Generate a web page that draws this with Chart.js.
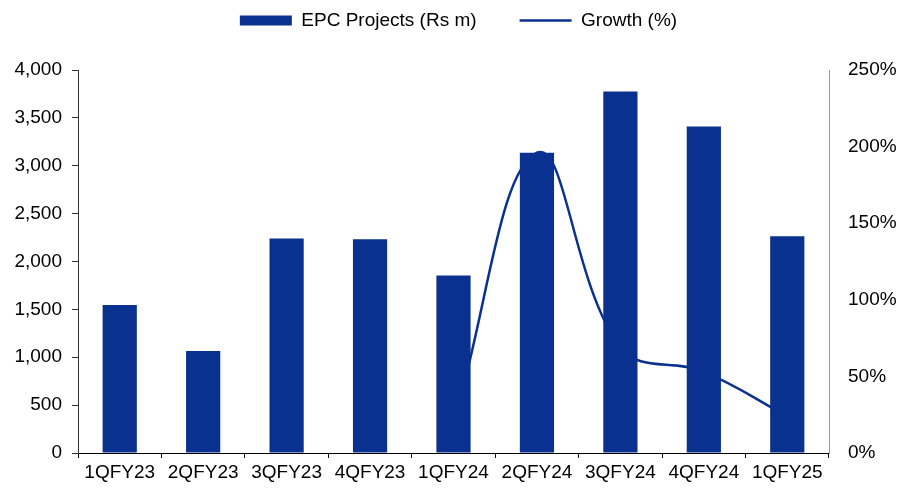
<!DOCTYPE html>
<html>
<head>
<meta charset="utf-8">
<script src="https://cdn.jsdelivr.net/npm/chart.js@4.4.0/dist/chart.umd.min.js"></script>
<style>
  html, body { margin: 0; padding: 0; background: #fff; }
  #wrap { width: 917px; height: 490px; }
</style>
</head>
<body>
<div id="wrap"><canvas id="chart"></canvas></div>
<script>
// quarterly EPC projects revenue and yoy growth
const quarters = ['1QFY23', '2QFY23', '3QFY23', '4QFY23', '1QFY24', '2QFY24', '3QFY24', '4QFY24', '1QFY25'];
const epcProjects = [1545, 1065, 2240, 2232, 1855, 3135, 3775, 3410, 2265];
const growthPct = [null, null, null, null, 20, 196, 69, 53, 24];

const navy = '#0a318f';
Chart.defaults.font.family = '"Liberation Sans", Arial, sans-serif';
Chart.defaults.font.size = 19;
Chart.defaults.color = '#000';

// legend sits high, chart area starts lower -> force the legend box height
const legendHeight = {
    id: 'legendHeight',
    beforeUpdate: function(chart) {
        const lg = chart.legend;
        if (lg && !lg._patched) {
            const origFit = lg.fit;
            lg.fit = function() {
                origFit.call(this);
                this.height = 102;
            };
            lg._patched = true;
        }
    }
};

const data = {
    labels: quarters,
    datasets: [
        {
            type: 'bar',
            label: 'EPC Projects (Rs m)',
            data: epcProjects,
            backgroundColor: navy,
            borderWidth: 0,
            barPercentage: 0.41,
            categoryPercentage: 1,
            pointStyle: 'rect',
            yAxisID: 'y',
            order: 0
        },
        {
            type: 'line',
            label: 'Growth (%)',
            data: growthPct,
            borderColor: navy,
            backgroundColor: navy,
            borderWidth: 2.5,
            pointRadius: 0,
            pointStyle: 'line',
            tension: 0.4,
            spanGaps: false,
            yAxisID: 'y1',
            order: 1
        }
    ]
};

const config = {
    data: data,
    plugins: [legendHeight],
    options: {
        responsive: true,
        maintainAspectRatio: false,
        animation: false,
        layout: { padding: { top: -32, left: 0, right: 0, bottom: 0 } },
        plugins: {
            tooltip: { enabled: false },
            legend: {
                position: 'top',
                labels: {
                    usePointStyle: true,
                    pointStyleWidth: 52,
                    boxHeight: 10,
                    padding: 43
                }
            }
        },
        scales: {
            x: {
                grid: { display: true, drawOnChartArea: false, tickLength: 5, color: '#000' },
                border: { color: '#000' },
                ticks: { padding: 3, maxRotation: 0, autoSkip: false },
                afterFit: function(scale) { scale.height = 37; }
            },
            y: {
                position: 'left',
                min: 0,
                max: 4000,
                grid: { display: true, drawOnChartArea: false, tickLength: 6, color: '#333' },
                border: { color: '#333' },
                ticks: {
                    stepSize: 500,
                    padding: 10,
                    callback: function(v) { return v.toLocaleString('en-US'); }
                },
                afterFit: function(scale) { scale.width = 78; }
            },
            y1: {
                position: 'right',
                min: 0,
                max: 250,
                grid: { display: false, tickLength: 0 },
                border: { display: true, color: '#999' },
                ticks: {
                    stepSize: 50,
                    padding: 19,
                    callback: function(v) { return v + '%'; }
                },
                afterFit: function(scale) { scale.width = 88; }
            }
        }
    }
};

const chart = new Chart(document.getElementById('chart'), config);
</script>
</body>
</html>
